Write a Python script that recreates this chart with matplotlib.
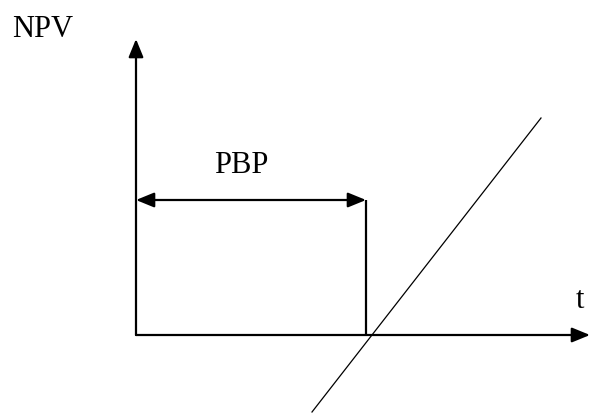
import matplotlib
matplotlib.use("Agg")
from matplotlib import pyplot as plt

# diagram values, origin of the axes at (0, 0)
x_axis_end = 454
y_axis_end = 296
pbp = 230
npv_at_pbp = 135
line_t = [176, 405]
line_npv = [-77, 217]

labels = {'y': 'NPV', 'x': 't', 'pbp': 'PBP'}

fig = plt.figure(figsize=(5.9, 4.14), dpi=100)
ax = fig.add_axes([0, 0, 1, 1])
ax.set_xlim(-136, 454)
ax.set_ylim(-78, 336)
ax.axis('off')

head = dict(arrowstyle='-|>,head_length=1.1,head_width=0.45', color='k',
            lw=1.6, shrinkA=0, shrinkB=0, mutation_scale=10)
both = dict(head, arrowstyle='<|-|>,head_length=1.1,head_width=0.45')

# axes
ax.annotate('', xy=(x_axis_end, 0), xytext=(0, 0), arrowprops=head)
ax.annotate('', xy=(0, y_axis_end), xytext=(0, 0), arrowprops=head)

# payback period
ax.annotate('', xy=(pbp, npv_at_pbp), xytext=(0, npv_at_pbp), arrowprops=both)
ax.plot([pbp, pbp], [0, npv_at_pbp], color='k', lw=1.6, solid_capstyle='butt')

# NPV line
ax.plot(line_t, line_npv, color='k', lw=0.9)

font = dict(family='Liberation Serif', fontsize=22, color='k')
ax.text(-124, 299, labels['y'], ha='left', va='baseline', **font)
ax.text(105, 163, labels['pbp'], ha='center', va='baseline', **font)
ax.text(440, 28, labels['x'], ha='left', va='baseline', **font)

fig.savefig('out.png', dpi=100)
